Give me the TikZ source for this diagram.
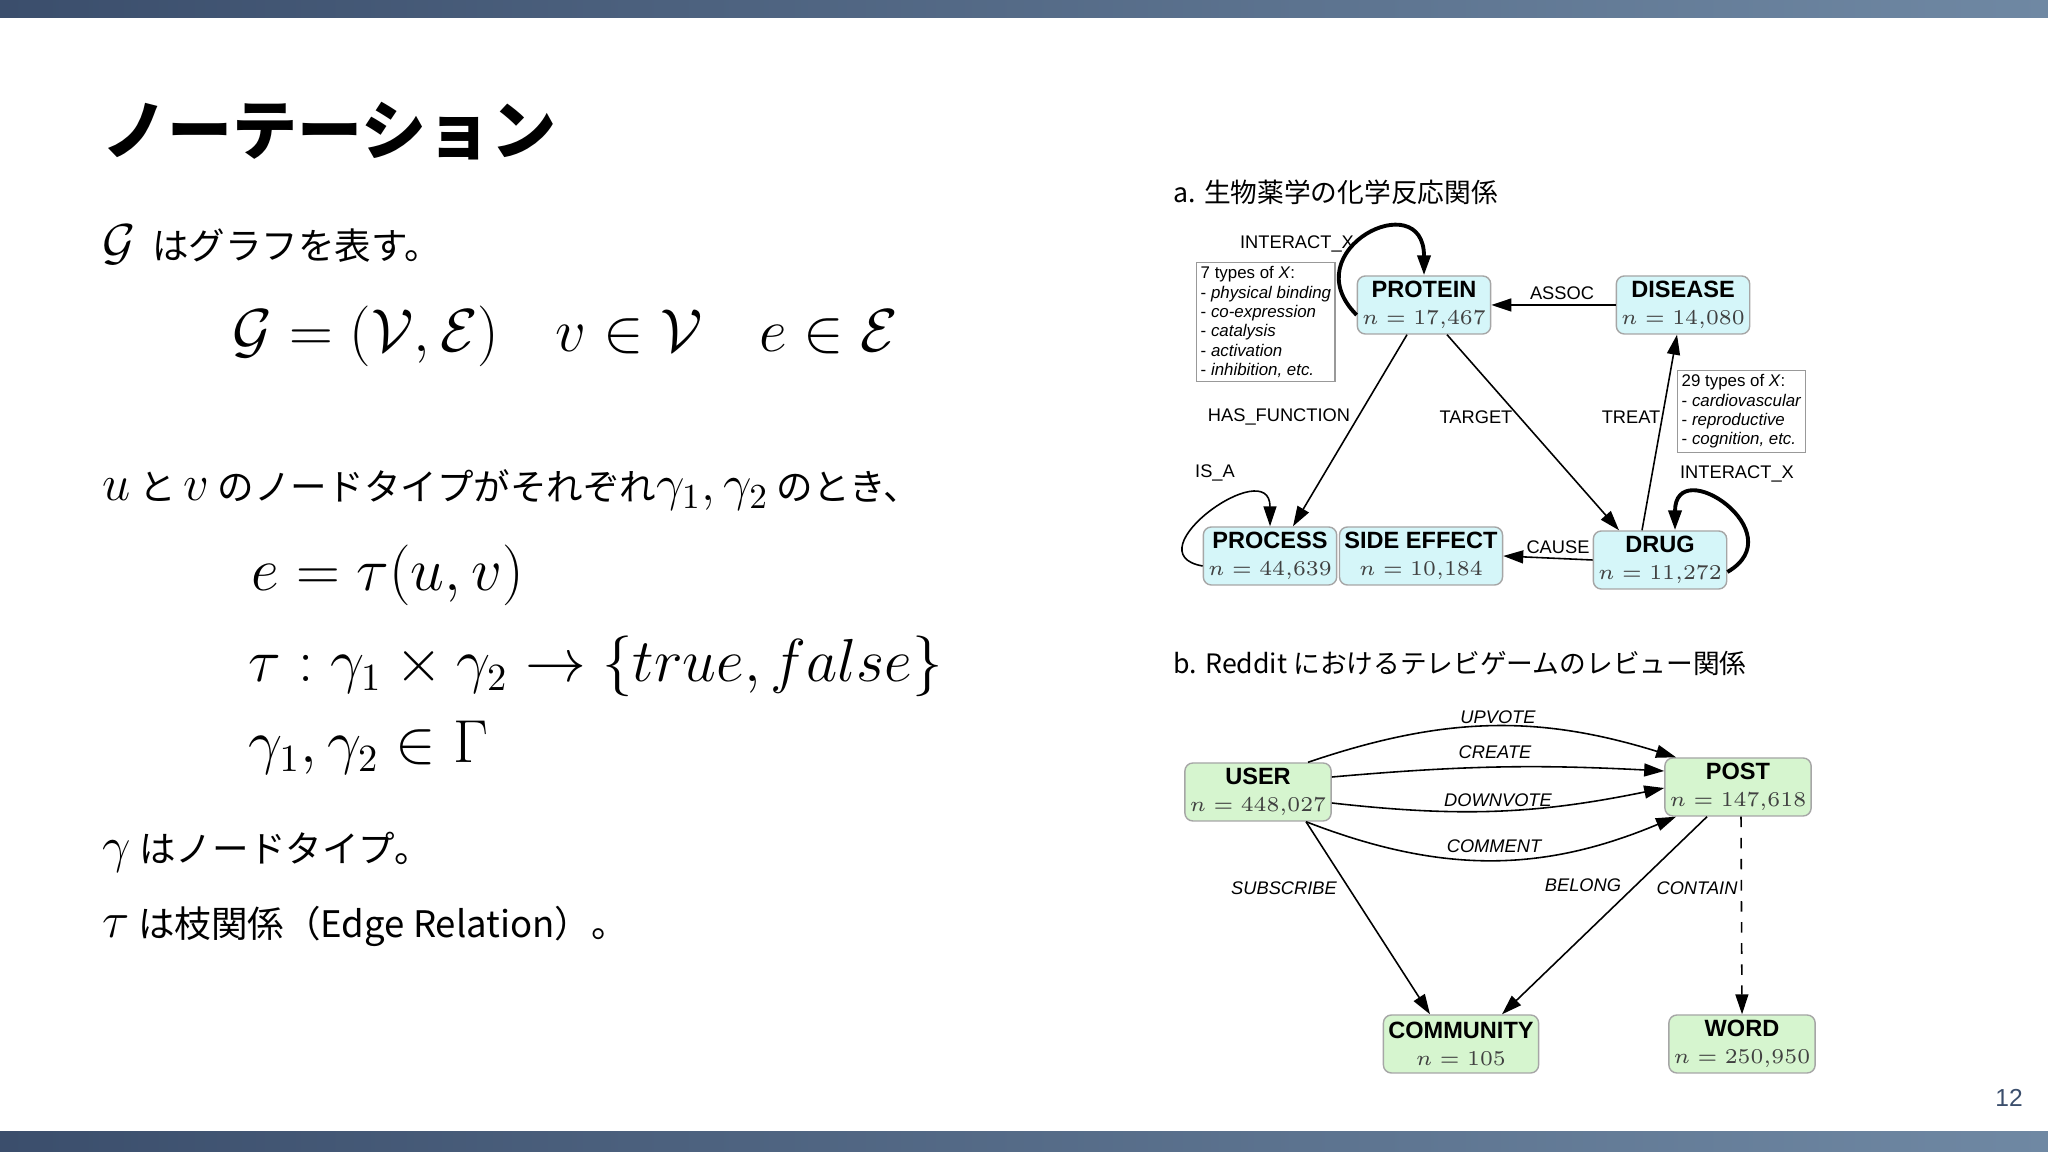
\documentclass[tikz,border=0pt]{standalone}
\usepackage{fontspec}
\setsansfont{Liberation Sans}
\newfontfamily\jp{Noto Sans CJK JP}
\usetikzlibrary{arrows.meta, positioning}
\definecolor{barL}{HTML}{3B4E6C}
\definecolor{barR}{HTML}{6F88A3}
\definecolor{cyanbox}{HTML}{D5F6F9}
\definecolor{greenbox}{HTML}{D6F5CF}
\tikzset{
  ent/.style={draw=black!35, rounded corners=0.8mm, align=center, inner sep=0.5mm,
    minimum width=12.3mm, minimum height=5.8mm, font=\fontsize{6.7}{7.6}\selectfont\sffamily},
  bio/.style={ent, fill=cyanbox},
  red/.style={ent, fill=greenbox},
  note/.style={draw=black!40, align=left, inner sep=0.4mm, font=\fontsize{4.8}{5.5}\selectfont\sffamily},
  lab/.style={font=\fontsize{5.2}{6}\selectfont\sffamily},
  ilab/.style={font=\fontsize{5.2}{6}\selectfont\sffamily\itshape},
  rel/.style={-{Triangle[length=2mm,width=1.3mm]}, line width=0.45pt},
  loopline/.style={rel, line width=1.1pt},
  body/.style={anchor=west, inner sep=0pt, font=\fontsize{10.4}{12}\selectfont\jp},
  eqn/.style={anchor=west, inner sep=0pt, font=\fontsize{16}{18}\selectfont}
}
\newcommand{\nval}[1]{\\[0pt]{\fontsize{5.8}{6.5}\selectfont\color{black!75}$n=#1$}}
\begin{document}
\begin{tikzpicture}[x=0.1mm, y=0.1mm]
\useasboundingbox (0,0) rectangle (2048,-1152);
\fill[white] (0,0) rectangle (2048,-1152);
% frame bars
\shade[left color=barL, right color=barR] (0,0) rectangle (2048,-18);
\shade[left color=barL, right color=barR] (0,-1131) rectangle (2048,-1152);

% left column
\node[anchor=west, inner sep=0pt, font=\fontsize{18.5}{20}\selectfont\jp\bfseries] (title) at (102,-131) {ノーテーション};
\node[body] (l1) at (102,-245) {{\fontsize{14.5}{16}\selectfont$\mathcal{G}$}\ \ はグラフを表す。};
\node[eqn] (e1) at (232,-336) {$\mathcal{G}=(\mathcal{V},\mathcal{E})\quad v\in\mathcal{V}\quad e\in\mathcal{E}$};
\node[body] (l2) at (102,-490) {{\fontsize{14.5}{16}\selectfont$u$} と {\fontsize{14.5}{16}\selectfont$v$} のノードタイプがそれぞれ{\fontsize{14.5}{16}\selectfont$\gamma_1,\gamma_2$} のとき、};
\node[eqn] (e2) at (251,-575) {$e=\tau(u,v)$};
\node[eqn] (e3) at (248,-666) {$\tau:\gamma_1\times\gamma_2\rightarrow\{true,false\}$};
\node[eqn] (e4) at (248,-748) {$\gamma_1,\gamma_2\in\Gamma$};
\node[body] (l3) at (102,-852) {{\fontsize{14.5}{16}\selectfont$\gamma$}\ はノードタイプ。};
\node[body] (l4) at (102,-926) {{\fontsize{14.5}{16}\selectfont$\tau$}\ は枝関係（Edge Relation）。};
\node[font=\fontsize{7}{8}\selectfont\sffamily, text=barL] (page) at (2009,-1098) {12};

% a. biomedical graph
\node[anchor=west, inner sep=0pt, font=\fontsize{7.6}{9}\selectfont\jp] (ta) at (1173,-192) {a. 生物薬学の化学反応関係};
\node[bio] (protein) at (1424,-305) {\textbf{PROTEIN}\nval{17{,}467}};
\node[bio] (disease) at (1683,-305) {\textbf{DISEASE}\nval{14{,}080}};
\node[bio] (process) at (1270,-556) {\textbf{PROCESS}\nval{44{,}639}};
\node[bio, minimum width=15.2mm] (side) at (1421,-556) {\textbf{SIDE EFFECT}\nval{10{,}184}};
\node[bio] (drug) at (1660,-560) {\textbf{DRUG}\nval{11{,}272}};
\node[note, anchor=north west] (typesX) at (1196,-262)
  {7 types of \textit{X}:\\- \textit{physical binding}\\- \textit{co-expression}\\- \textit{catalysis}\\- \textit{activation}\\- \textit{inhibition, etc.}};
\node[note, anchor=north west] (typesD) at (1677,-370)
  {29 types of \textit{X}:\\- \textit{cardiovascular}\\- \textit{reproductive}\\- \textit{cognition, etc.}};

\draw[loopline] ([yshift=-1mm]protein.west) to[out=135,in=90,looseness=3] (protein.north);
\draw[loopline] ([yshift=-1.2mm]drug.east) to[out=30,in=90,looseness=3] ([xshift=1.5mm]drug.north);
\draw[rel] ([yshift=-1mm]process.west) to[out=170,in=90,looseness=2.4] (process.north);
\draw[rel] (disease.west) -- (protein.east);
\draw[rel] ([xshift=-1.7mm]protein.south) -- ([xshift=2.3mm]process.north);
\draw[rel] ([xshift=2.3mm]protein.south) -- ([xshift=-4.1mm]drug.north);
\draw[rel] ([xshift=-1.8mm]drug.north) -- ([xshift=-0.6mm]disease.south);
\draw[rel] (drug.west) -- (side.east);

\node[lab] (l-ix1) at (1297,-244) {INTERACT\_X};
\node[lab] (l-assoc) at (1562,-293) {ASSOC};
\node[lab] (l-hasf) at (1279,-417) {HAS\_FUNCTION};
\node[lab] (l-target) at (1476,-417) {TARGET};
\node[lab] (l-treat) at (1631,-417) {TREAT};
\node[lab] (l-isa) at (1215,-473) {IS\_A};
\node[lab] (l-ix2) at (1737,-474) {INTERACT\_X};
\node[lab] (l-cause) at (1558,-547) {CAUSE};

% b. reddit graph
\node[anchor=west, inner sep=0pt, font=\fontsize{7.6}{9}\selectfont\jp] (tb) at (1173,-663) {b. Reddit におけるテレビゲームのレビュー関係};
\node[red] (user) at (1258,-792) {\textbf{USER}\nval{448{,}027}};
\node[red] (post) at (1738,-787) {\textbf{POST}\nval{147{,}618}};
\node[red, minimum width=15mm] (community) at (1461,-1044) {\textbf{COMMUNITY}\nval{105}};
\node[red] (word) at (1742,-1044) {\textbf{WORD}\nval{250{,}950}};

\draw[rel] ([xshift=5mm]user.north) to[bend left=18] ([xshift=-6.2mm]post.north);
\draw[rel] ([yshift=1.5mm]user.east) to[bend left=4] ([yshift=1.6mm]post.west);
\draw[rel] ([yshift=-1.1mm]user.east) to[bend right=9] ([yshift=-0.1mm]post.west);
\draw[rel] ([xshift=4.8mm]user.south) to[bend right=22] ([xshift=-6.2mm]post.south);
\draw[rel] ([xshift=4.8mm]user.south) -- ([xshift=-3.1mm]community.north);
\draw[rel] ([xshift=-3.1mm]post.south) -- ([xshift=4.1mm]community.north);
\draw[rel, dashed] ([xshift=0.3mm]post.south) -- (word.north);

\node[ilab] (l-up) at (1498,-717) {UPVOTE};
\node[ilab] (l-create) at (1495,-752) {CREATE};
\node[ilab] (l-down) at (1498,-800) {DOWNVOTE};
\node[ilab] (l-comment) at (1494,-846) {COMMENT};
\node[ilab] (l-sub) at (1284,-888) {SUBSCRIBE};
\node[ilab] (l-belong) at (1583,-885) {BELONG};
\node[ilab] (l-contain) at (1697,-888) {CONTAIN};
\end{tikzpicture}
\end{document}
